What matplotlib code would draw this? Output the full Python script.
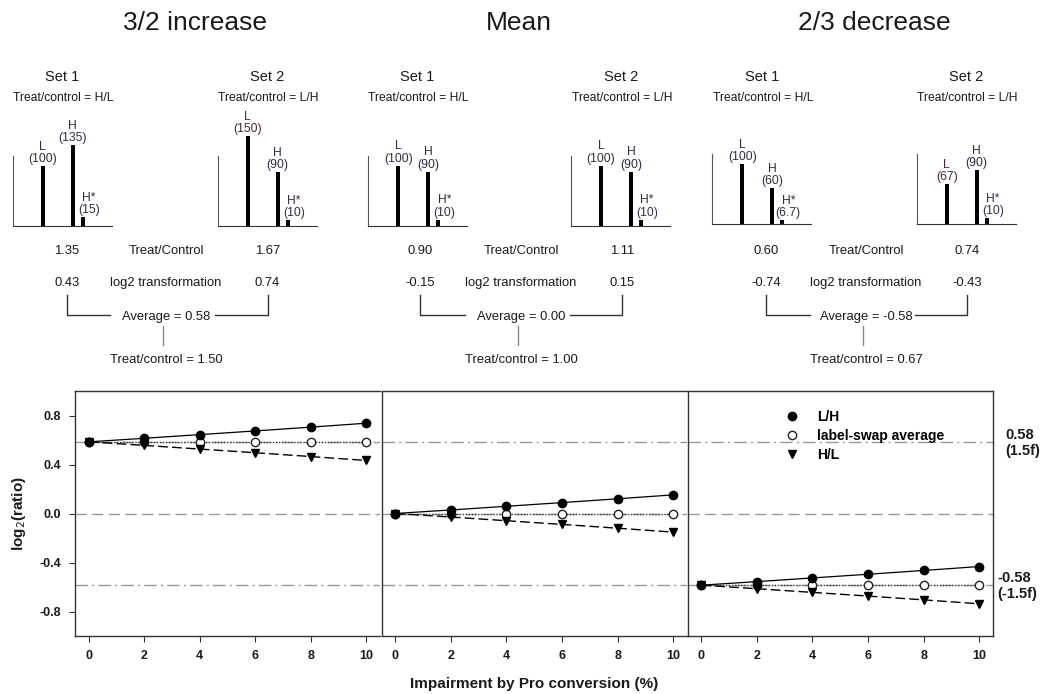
import matplotlib
matplotlib.use("Agg")
import matplotlib.pyplot as plt
from matplotlib.lines import Line2D

plt.rcParams['font.family'] = ['Liberation Sans', 'DejaVu Sans']

# ---------------- data ----------------
panel_titles = ["3/2 increase", "Mean", "2/3 decrease"]
set_names = ["Set 1", "Set 2"]
set_ratio_def = ["Treat/control = H/L", "Treat/control = L/H"]
peak_names = ["L", "H", "H*"]
# peak intensities (set1, set2) per panel
peaks_inc = [[100, 135, 15], [150, 90, 10]]
peaks_mean = [[100, 90, 10], [100, 90, 10]]
peaks_dec = [[100, 60, 6.7], [67, 90, 10]]
peak_text_inc = [["100", "135", "15"], ["150", "90", "10"]]
peak_text_mean = [["100", "90", "10"], ["100", "90", "10"]]
peak_text_dec = [["100", "60", "6.7"], ["67", "90", "10"]]

ratio_set1 = [1.35, 0.90, 0.60]
ratio_set2 = [1.67, 1.11, 0.74]
log_set1 = [0.43, -0.15, -0.74]
log_set2 = [0.74, 0.15, -0.43]
average = [0.58, 0.00, -0.58]
combined = [1.50, 1.00, 0.67]

pct = [0, 2, 4, 6, 8, 10]
inc_LH = [0.585, 0.614, 0.644, 0.674, 0.705, 0.737]
inc_avg = [0.585, 0.585, 0.585, 0.585, 0.585, 0.585]
inc_HL = [0.585, 0.556, 0.526, 0.496, 0.465, 0.433]
mean_LH = [0.0, 0.029, 0.059, 0.089, 0.120, 0.152]
mean_avg = [0.0, 0.0, 0.0, 0.0, 0.0, 0.0]
mean_HL = [0.0, -0.029, -0.059, -0.089, -0.120, -0.152]
dec_LH = [-0.585, -0.556, -0.526, -0.496, -0.465, -0.433]
dec_avg = [-0.585, -0.585, -0.585, -0.585, -0.585, -0.585]
dec_HL = [-0.585, -0.614, -0.644, -0.674, -0.705, -0.737]
ref_levels = [0.585, 0.0, -0.585]
ref_labels = ["0.58\n(1.5f)", "-0.58\n(-1.5f)"]
series_labels = ["L/H", "label-swap average", "H/L"]

# ---------------- layout helpers ----------------
W, H = 1044, 694
fig = plt.figure(figsize=(W / 100, H / 100), dpi=100)
fig.patch.set_facecolor("white")

def fx(x):
    return x / W

def fy(y):
    return 1 - y / H

def ftext(x, y, s, **kw):
    kw.setdefault("ha", "center")
    kw.setdefault("va", "center")
    kw.setdefault("color", "#1a1a1a")
    fig.text(fx(x), fy(y), s, **kw)

def fline(xs, ys, color="#333333", lw=1.0):
    fig.add_artist(Line2D([fx(v) for v in xs], [fy(v) for v in ys],
                          color=color, lw=lw, transform=fig.transFigure))

TXT = "#1a1a1a"

# ---------------- top section ----------------
title_x = [195, 519, 874]
for t, x in zip(panel_titles, title_x):
    ftext(x, 23, t, fontsize=19)

set_label_x = [(62, 267), (417, 621), (762, 966)]
val_x = [(66.7, 267.5), (420, 621.7), (766, 967)]
mid_x = [166, 521, 866]

mini_left = [(12.7, 217.7), (368.3, 571), (712.3, 916.7)]
mini_base = [226, 225.7, 224.3]
bar_pos = [30, 60, 70]
label_dx = [0, 0, 6]
label_colors = [
    [["#2b2d42", "#2b2d42", "#2b2d42"], ["#4a2440", "#2b2d42", "#3b2a4a"]],
    [["#2b2d42", "#2b2d42", "#2b2d42"], ["#2b2d42", "#2b2d42", "#3b2a4a"]],
    [["#2b2d42", "#2b2d42", "#2b2d42"], ["#4a2440", "#2b2d42", "#3b2a4a"]],
]

all_peaks = [peaks_inc, peaks_mean, peaks_dec]
all_ptext = [peak_text_inc, peak_text_mean, peak_text_dec]

for p in range(3):
    for s in range(2):
        ftext(set_label_x[p][s], 76.7, set_names[s], fontsize=10.5)
        ftext(set_label_x[p][s] + 1, 98.3, set_ratio_def[s], fontsize=8.7)
        left = mini_left[p][s]
        base = mini_base[p]
        ax = fig.add_axes([fx(left), fy(base), 99 / W, 70 / H])
        ax.set_xlim(0, 99)
        ax.set_ylim(0, 70 / 0.6)
        vals = all_peaks[p][s]
        ax.bar(bar_pos, vals, width=4.2, color="black", clip_on=False)
        for i in range(3):
            ax.text(bar_pos[i] + label_dx[i], vals[i] + 1.5,
                    f"{peak_names[i]}\n({all_ptext[p][s][i]})",
                    ha="center", va="bottom", fontsize=8.7,
                    color=label_colors[p][s][i], linespacing=1.05)
        for side in ("top", "right"):
            ax.spines[side].set_visible(False)
        ax.spines["left"].set_color("#555555")
        ax.spines["bottom"].set_color("#333333")
        ax.set_xticks([])
        ax.set_yticks([])
        ax.patch.set_alpha(0)

    x1, x2 = val_x[p]
    xm = mid_x[p]
    ftext(x1, 251, f"{ratio_set1[p]:.2f}", fontsize=9.4)
    ftext(x2, 251, f"{ratio_set2[p]:.2f}", fontsize=9.4)
    ftext(xm, 251, "Treat/Control", fontsize=9.4)
    ftext(x1, 282.7, f"{log_set1[p]:.2f}", fontsize=9.4)
    ftext(x2, 282.7, f"{log_set2[p]:.2f}", fontsize=9.4)
    ftext(xm, 282.7, "log2 transformation", fontsize=9.4)
    fline([x1, x1, xm - 56], [295, 315, 315])
    fline([xm + 49, x2, x2], [315, 315, 295])
    ftext(xm, 317, f"Average = {average[p]:.2f}", fontsize=9.4)
    fline([xm - 3, xm - 3], [326, 345], color="#888888")
    ftext(xm, 360, f"Treat/control = {combined[p]:.2f}", fontsize=9.4)

# ---------------- bottom section ----------------
panel_x = [(75, 380), (381.5, 687), (687.5, 993)]
top, bottom = 391, 636
series = [(inc_LH, inc_avg, inc_HL), (mean_LH, mean_avg, mean_HL), (dec_LH, dec_avg, dec_HL)]
axes = []
for p in range(3):
    l, r = panel_x[p]
    ax = fig.add_axes([fx(l), fy(bottom), (r - l) / W, (bottom - top) / H])
    axes.append(ax)
    ax.set_xlim(-0.5, 10.5)
    ax.set_ylim(-1.0, 1.0)
    for lev in ref_levels:
        if lev == 0:
            ax.axhline(lev, color="#999999", lw=1.0, ls=(0, (8, 4)), zorder=1)
        else:
            ax.axhline(lev, color="#999999", lw=1.0, ls=(0, (9, 3, 1.5, 3)), zorder=1)
    lh, av, hl = series[p]
    ax.plot(pct, av, color="#333333", lw=1.0, ls=(0, (1, 1.2)), marker="o",
            ms=6, mfc="white", mec="#222222", mew=1.0, zorder=3)
    ax.plot(pct, hl, color="black", lw=1.0, ls=(0, (7, 3)), marker="v",
            ms=5.5, mfc="black", mec="black", zorder=4)
    ax.plot(pct, lh, color="black", lw=0.9, ls="-", marker="o",
            ms=6, mfc="black", mec="black", zorder=5)
    ax.set_xticks(pct)
    ax.set_xticklabels([str(v) for v in pct], fontsize=9, fontweight="bold")
    ax.tick_params(axis="x", direction="out", length=4, width=0.8, pad=6, colors="#333333",
                   labelcolor=TXT)
    for sp in ax.spines.values():
        sp.set_color("#333333")
        sp.set_linewidth(1.0)
    if p == 0:
        ax.set_yticks([0.8, 0.4, 0.0, -0.4, -0.8])
        ax.set_yticklabels(["0.8", "0.4", "0.0", "-0.4", "-0.8"], fontsize=9,
                           fontweight="bold")
        ax.tick_params(axis="y", direction="out", length=4, width=0.8, pad=6,
                       colors="#333333", labelcolor=TXT)
        ax.set_ylabel("log$_2$(ratio)", fontsize=11, fontweight="bold", labelpad=8,
                      color=TXT)
    else:
        ax.set_yticks([])
    if p < 2:
        ax.spines["right"].set_visible(False)

# legend
handles = [Line2D([], [], ls="none", marker="o", ms=6, mfc="black", mec="black"),
           Line2D([], [], ls="none", marker="o", ms=6, mfc="white", mec="#222222"),
           Line2D([], [], ls="none", marker="v", ms=6, mfc="black", mec="black")]
axes[2].legend(handles, series_labels, loc="upper left",
               bbox_to_anchor=(fx(784), fy(410)), bbox_transform=fig.transFigure,
               frameon=False, prop={"weight": "bold", "size": 10},
               handlelength=1.2, handletextpad=1.2, labelspacing=0.35,
               borderaxespad=0, borderpad=0)

ftext(1005, 443, ref_labels[0], fontsize=10.5, fontweight="bold", ha="left")
ftext(997, 586, ref_labels[1], fontsize=10.5, fontweight="bold", ha="left")

ftext(534, 684, "Impairment by Pro conversion (%)", fontsize=11, fontweight="bold")

fig.savefig("out.png", dpi=100, facecolor="white")
